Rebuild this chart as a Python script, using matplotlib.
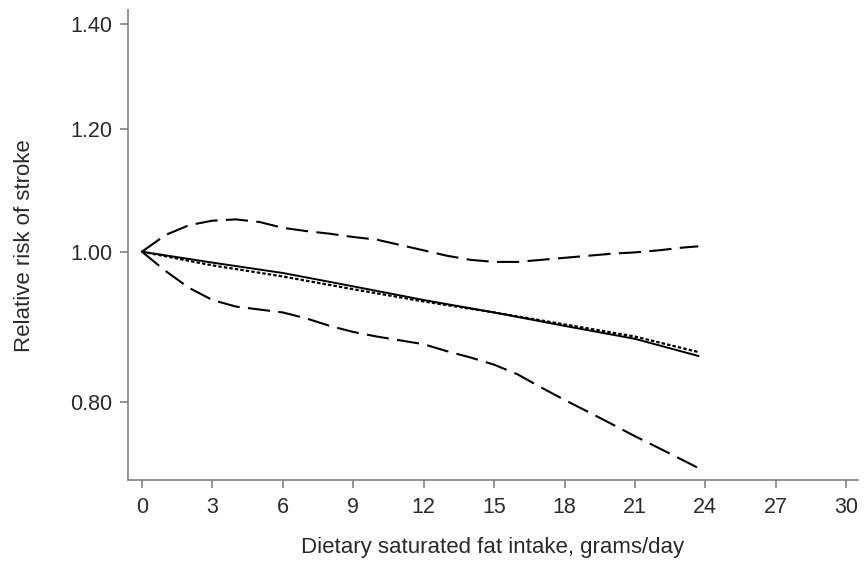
import numpy as np
import matplotlib.pyplot as plt

plt.rcParams['font.family'] = ['Liberation Sans', 'DejaVu Sans']
plt.rcParams['lines.scale_dashes'] = False

# fat intake (g/day) and relative risk curves
x_ci = [0, 1, 2, 3, 4, 5, 6, 7, 8, 9, 10, 11, 12, 13, 14, 15, 16, 17, 18, 19, 20, 21, 22, 23, 23.7]
upper = [1.0, 1.025, 1.040, 1.047, 1.049, 1.045, 1.036, 1.031, 1.027, 1.022, 1.018, 1.010, 1.002,
         0.994, 0.988, 0.985, 0.985, 0.988, 0.991, 0.994, 0.997, 0.999, 1.002, 1.006, 1.008]
lower = [1.0, 0.972, 0.948, 0.931, 0.922, 0.918, 0.914, 0.906, 0.896, 0.888, 0.882, 0.877, 0.872,
         0.863, 0.855, 0.846, 0.834, 0.818, 0.803, 0.789, 0.775, 0.761, 0.748, 0.735, 0.726]

x_fit = [0, 3, 6, 9, 12, 15, 18, 21, 23.7]
spline = [1.0, 0.984, 0.969, 0.950, 0.931, 0.914, 0.896, 0.879, 0.857]
linear = [1.0, 0.980, 0.964, 0.946, 0.929, 0.914, 0.898, 0.882, 0.862]

yticks = [0.80, 1.00, 1.20, 1.40]
xticks = list(range(0, 31, 3))

fig = plt.figure(figsize=(8.64, 5.61), dpi=100)
ax = fig.add_axes([0.148, 0.144, 0.845, 0.838])

ax.plot(x_ci, upper, color='black', lw=1.5, linestyle=(0, (16, 6)))
ax.plot(x_ci, lower, color='black', lw=1.5, linestyle=(0, (16, 6)))
ax.plot(x_fit, spline, color='black', lw=1.4, linestyle='-')
ax.plot(x_fit, linear, color='black', lw=1.6, linestyle=(0, (2.5, 1.5)))

ax.set_yscale('log')
ax.set_ylim(0.713, 1.43)
ax.set_xlim(-0.6, 30.5)
ax.set_yticks(yticks)
ax.set_yticklabels([f'{v:.2f}' for v in yticks])
ax.minorticks_off()
ax.set_xticks(xticks)

for s in ['top', 'right']:
    ax.spines[s].set_visible(False)
for s in ['left', 'bottom']:
    ax.spines[s].set_color('#808080')
    ax.spines[s].set_linewidth(1.2)

ax.tick_params(colors='#808080', labelcolor='#2a2a2a', labelsize=15.5, length=6, width=1.2)
ax.tick_params(axis='y', pad=5)
ax.tick_params(axis='x', pad=6)

ax.set_xlabel('Dietary saturated fat intake, grams/day', fontsize=16, color='#2a2a2a', va='center')
ax.set_ylabel('Relative risk of stroke', fontsize=16, color='#2a2a2a', va='center')
ax.xaxis.set_label_coords(0.5, -0.144)
ax.yaxis.set_label_coords(-0.141, 0.5)

fig.savefig('out.png', dpi=100)
